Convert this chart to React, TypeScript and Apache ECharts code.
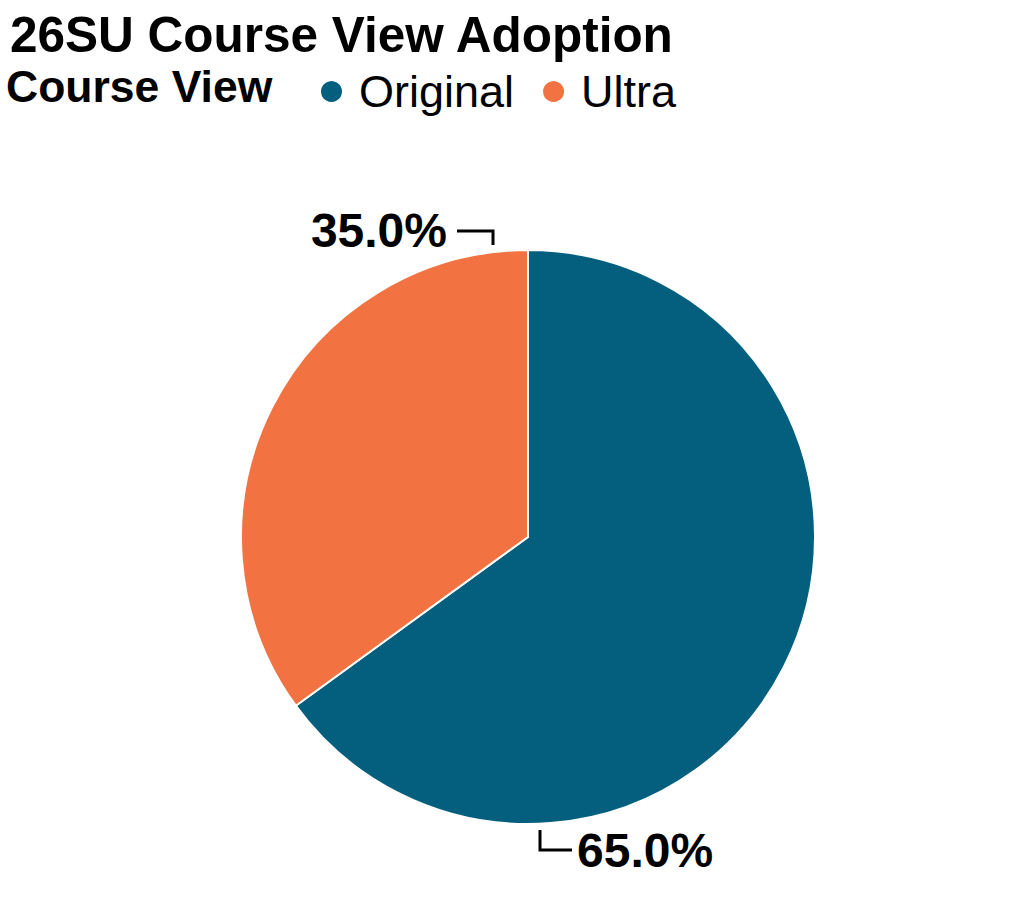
import React, { useEffect, useRef } from "react";
import * as echarts from "echarts";

const TITLE = "26SU Course View Adoption";
const LEGEND_TITLE = "Course View";
const categories = ["Original", "Ultra"];
const values = [65, 35];
const colors = ["#035f7d", "#f27341"];

const CX = 528;
const CY = 537;
const R = 287;
const FONT = "'Liberation Sans', Arial, Helvetica, sans-serif";

export default function App() {
  const ref = useRef<HTMLDivElement>(null);
  useEffect(() => {
    if (!ref.current) return;
    const chart = echarts.init(ref.current, undefined, { renderer: "svg" });
    const total = values.reduce((a, b) => a + b, 0);
    chart.setOption({
      animation: false,
      backgroundColor: "#ffffff",
      title: {
        text: TITLE,
        left: 5,
        top: 4,
        textStyle: { fontSize: 49.5, fontWeight: "bold", color: "#000", fontFamily: FONT },
      },
      graphic: [
        {
          type: "text",
          left: 6,
          top: 64,
          style: { text: LEGEND_TITLE, fontSize: 44.5, fontWeight: "bold", fill: "#000", fontFamily: FONT },
        },
      ],
      legend: {
        data: categories,
        left: 314,
        top: 64,
        icon: "circle",
        itemWidth: 23,
        itemHeight: 23,
        itemGap: 27,
        textStyle: { fontSize: 45, color: "#000", fontFamily: FONT, padding: [0, 0, 0, 11] },
      },
      series: [
        {
          type: "pie",
          center: [CX, CY],
          radius: [0, R],
          startAngle: 90,
          clockwise: true,
          itemStyle: { borderColor: "#ffffff", borderWidth: 2 },
          label: {
            show: true,
            position: "outside",
            fontSize: 48,
            fontWeight: "bold",
            color: "#000",
            fontFamily: FONT,
            formatter: (p: any) => ((p.value / total) * 100).toFixed(1) + "%",
          },
          labelLine: { show: true, lineStyle: { color: "#000", width: 3 } },
          labelLayout: (params: any) => {
            if (params.dataIndex === 1) {
              return {
                x: CX - 81,
                y: CY - R - 20,
                align: "right",
                verticalAlign: "middle",
                labelLinePoints: [
                  [CX - 71, CY - R - 19],
                  [CX - 35, CY - R - 19],
                  [CX - 35, CY - R - 5],
                ],
              };
            }
            return {
              x: CX + 49,
              y: CY + R + 26,
              align: "left",
              verticalAlign: "middle",
              labelLinePoints: [
                [CX + 12, CY + R + 6],
                [CX + 12, CY + R + 26],
                [CX + 44, CY + R + 26],
              ],
            };
          },
          emphasis: { disabled: true },
          data: categories.map((name, i) => ({
            name,
            value: values[i],
            itemStyle: { color: colors[i] },
          })),
        },
      ],
    });
    return () => chart.dispose();
  }, []);
  return (
    <div
      ref={ref}
      style={{ position: "fixed", left: 0, top: 0, width: 1024, height: 924 }}
    />
  );
}
